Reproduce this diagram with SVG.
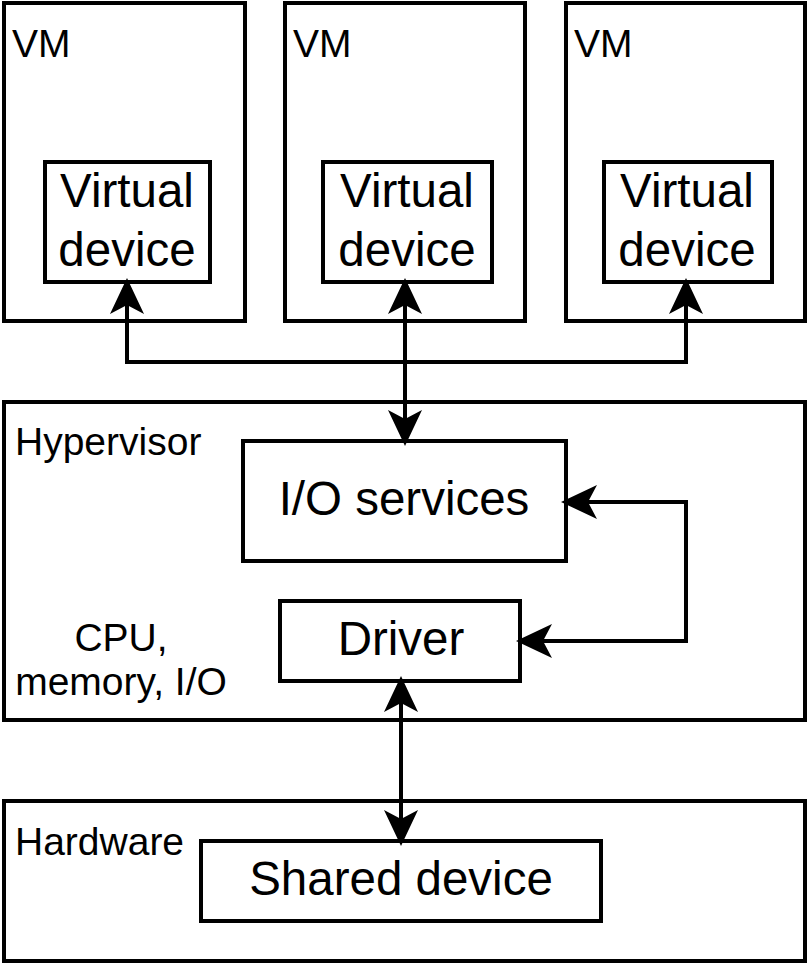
<svg xmlns="http://www.w3.org/2000/svg" width="808" height="964" viewBox="0 0 808 964">
<style>
.box{fill:#fff;stroke:#000;stroke-width:4}
.t{font-family:"Liberation Sans",Arial,sans-serif;fill:#000}
.big{font-size:47.5px;text-anchor:middle}
.sm{font-size:39px}
.edge{fill:none;stroke:#000;stroke-width:4}
</style>
<defs>
<marker id="ah" markerUnits="userSpaceOnUse" viewBox="-37 -18 38 36" refX="-5" refY="0" markerWidth="38" markerHeight="36" orient="auto-start-reverse">
<path d="M0,0 L-36,-17 L-27,0 L-36,17 Z" fill="#000"/>
</marker>
</defs>
<rect width="808" height="964" fill="#fff"/>
<g id="vm1"><rect class="box" x="4" y="3" width="241" height="318"/><text class="t sm" x="12" y="57">VM</text></g>
<g id="vm2"><rect class="box" x="285" y="3" width="240" height="318"/><text class="t sm" x="293" y="57">VM</text></g>
<g id="vm3"><rect class="box" x="566" y="3" width="239" height="318"/><text class="t sm" x="574" y="57">VM</text></g>
<g id="vd1"><rect class="box" x="45" y="162" width="165" height="120"/><text class="t big" x="127" y="207">Virtual</text><text class="t big" x="127" y="266">device</text></g>
<g id="vd2"><rect class="box" x="323" y="162" width="169" height="120"/><text class="t big" x="407" y="207">Virtual</text><text class="t big" x="407" y="266">device</text></g>
<g id="vd3"><rect class="box" x="604" y="162" width="168" height="120"/><text class="t big" x="687" y="207">Virtual</text><text class="t big" x="687" y="266">device</text></g>
<g id="hypervisor"><rect class="box" x="4" y="402" width="801" height="318"/><text class="t sm" x="15" y="455">Hypervisor</text>
<text class="t sm" x="121" y="651" text-anchor="middle">CPU,</text><text class="t sm" x="121" y="695" text-anchor="middle">memory, I/O</text></g>
<g id="io"><rect class="box" x="243" y="441" width="323" height="120"/><text class="t big" x="404" y="515">I/O services</text></g>
<g id="driver"><rect class="box" x="280" y="601" width="240" height="80"/><text class="t big" x="401" y="655">Driver</text></g>
<g id="hardware"><rect class="box" x="4" y="801" width="801" height="160"/><text class="t sm" x="15" y="855">Hardware</text></g>
<g id="shared"><rect class="box" x="201" y="841" width="400" height="80"/><text class="t big" x="401" y="895">Shared device</text></g>
<g id="connectors">
<path class="edge" d="M127,283 V362 H405" marker-start="url(#ah)"/>
<path class="edge" d="M686,283 V362 H405" marker-start="url(#ah)"/>
<path class="edge" d="M405,283 V441" marker-start="url(#ah)" marker-end="url(#ah)"/>
<path class="edge" d="M566,502 H686 V641 H521" marker-start="url(#ah)" marker-end="url(#ah)"/>
<path class="edge" d="M401,681 V841" marker-start="url(#ah)" marker-end="url(#ah)"/>
</g>
</svg>
